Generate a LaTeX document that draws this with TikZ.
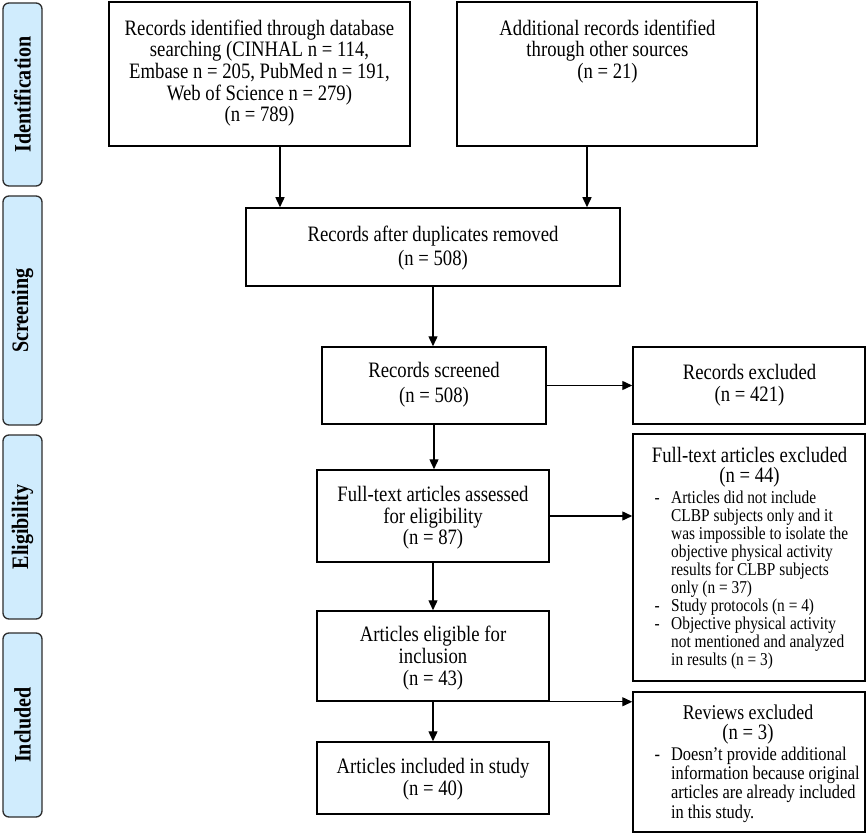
\documentclass[tikz,border=0pt]{standalone}
\usepackage{fontspec}
\setmainfont{Liberation Serif}[FakeStretch=0.85]
\usetikzlibrary{arrows.meta}
\definecolor{barblue}{RGB}{208,236,253}
\definecolor{bardraw}{RGB}{45,45,45}
\begin{document}
\begin{tikzpicture}[x=1pt,y=-1pt,
  box/.style={draw=black, line width=1.5pt, inner sep=0pt},
  bar/.style={draw=bardraw, fill=barblue, line width=1.3pt, rounded corners=6pt, minimum width=39pt, inner sep=0pt},
  bartext/.style={font=\fontsize{23.6}{26}\selectfont\bfseries, rotate=90, inner sep=0pt},
  mtext/.style={font=\fontsize{22}{21.7}\selectfont, align=center, inner sep=0pt},
  ttext/.style={font=\fontsize{22}{20}\selectfont, align=center, inner sep=0pt},
  ltext/.style={anchor=west, inner sep=0pt},
  arr/.style={line width=1.4pt, -{Triangle[length=10pt,width=9pt]}},
]
\useasboundingbox (0,0) rectangle (867,834);
\fill[white] (0,0) rectangle (867,834);

% side bars
\node[bar, minimum height=183pt] (s1) at (22.5,94.5) {};
\node[bartext] (s1t) at (s1) {Identification};
\node[bar, minimum height=229pt] (s2) at (22.5,310.5) {};
\node[bartext] (s2t) at (s2) {Screening};
\node[bar, minimum height=184pt] (s3) at (22.5,527) {};
\node[bartext] (s3t) at (s3) {Eligibility};
\node[bar, minimum height=184pt] (s4) at (22.5,725) {};
\node[bartext] (s4t) at (s4) {Included};

% boxes
\node[box, minimum width=301pt, minimum height=144pt] (b1) at (259.5,74) {};
\node[mtext] (b1t) at (259.5,73) {Records identified through database\\searching (CINHAL n = 114,\\Embase n = 205, PubMed n = 191,\\Web of Science n = 279)\\(n = 789)};

\node[box, minimum width=300pt, minimum height=144pt] (b2) at (607,74) {};
\node[mtext] (b2t) at (607.5,51.5) {Additional records identified\\through other sources\\(n = 21)};

\node[box, minimum width=374pt, minimum height=78pt] (b3) at (433,247) {};
\node[mtext] (b3t) at (433,248) {Records after duplicates removed\\[3pt](n = 508)};

\node[box, minimum width=224pt, minimum height=77pt] (b4) at (434,385.5) {};
\node[mtext] (b4t) at (434,385) {Records screened\\[3pt](n = 508)};

\node[box, minimum width=232pt, minimum height=77pt] (ex1) at (749,385.5) {};
\node[mtext] (ex1t) at (749.5,385) {Records excluded\\(n = 421)};

\node[box, minimum width=232pt, minimum height=92pt] (b5) at (433,516) {};
\node[mtext] (b5t) at (433,518) {Full-text articles assessed\\for eligibility\\(n = 87)};

\node[box, minimum width=232pt, minimum height=247pt] (ex2) at (749,557.5) {};
\node[ttext] (ex2t) at (749.5,467.5) {Full-text articles excluded\\(n = 44)};
\node[ltext] (ex2l) at (654.4,581) {\fontsize{18.1}{18}\selectfont
\begin{tabular}{@{}l@{\hspace{11.5pt}}l@{}}
- & Articles did not include\\
 & CLBP subjects only and it\\
 & was impossible to isolate the\\
 & objective physical activity\\
 & results for CLBP subjects\\
 & only (n = 37)\\
- & Study protocols (n = 4)\\
- & Objective physical activity\\
 & not mentioned and analyzed\\
 & in results (n = 3)
\end{tabular}};

\node[box, minimum width=232pt, minimum height=90pt] (b6) at (433,656) {};
\node[mtext] (b6t) at (433,658) {Articles eligible for\\inclusion\\(n = 43)};

\node[box, minimum width=232pt, minimum height=72pt] (b7) at (433,778) {};
\node[mtext] (b7t) at (433,779) {Articles included in study\\(n = 40)};

\node[box, minimum width=232pt, minimum height=140pt] (ex3) at (749,762) {};
\node[ttext] (ex3t) at (748,725) {\fontsize{21}{19}\selectfont Reviews excluded\\(n = 3)};
\node[ltext] (ex3l) at (654.4,785.5) {\fontsize{19.3}{19}\selectfont
\begin{tabular}{@{}l@{\hspace{11pt}}l@{}}
- & Doesn’t provide additional\\
 & information because original\\
 & articles are already included\\
 & in this study.
\end{tabular}};

% connectors
\draw[arr] ([xshift=20.5pt]b1.south) -- ([xshift=20.5pt]b1.south |- b3.north);
\draw[arr] ([xshift=-20pt]b2.south) -- ([xshift=-20pt]b2.south |- b3.north);
\draw[arr] (b3.south) -- (b3.south |- b4.north);
\draw[arr] (b4.east) -- (b4.east -| ex1.west);
\draw[arr] (b4.south) -- (b4.south |- b5.north);
\draw[arr] (b5.east) -- (b5.east -| ex2.west);
\draw[arr] (b5.south) -- (b5.south |- b6.north);
\draw[arr] (b6.south) -- (b6.south |- b7.north);
\draw[arr] (b6.south east) -- (b6.south east -| ex3.west);
\end{tikzpicture}
\end{document}
